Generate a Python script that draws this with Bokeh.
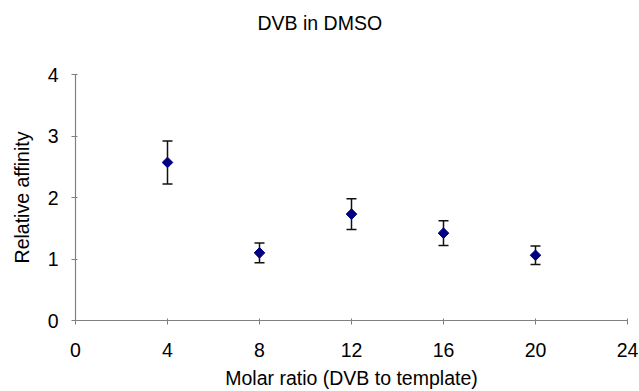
import numpy as np
from bokeh.plotting import figure
from bokeh.models import ColumnDataSource, Whisker, Range1d, FixedTicker, TeeHead, Title
from bokeh.embed import file_html
from bokeh.resources import INLINE

# Data
molar_ratio = [4, 8, 12, 16, 20]
affinity = [2.57, 1.10, 1.73, 1.42, 1.06]
err = [0.35, 0.16, 0.25, 0.20, 0.15]
x_ticks = [0, 4, 8, 12, 16, 20, 24]
y_ticks = [0, 1, 2, 3, 4]
title_text = "DVB in DMSO"

upper = [a + e for a, e in zip(affinity, err)]
lower = [a - e for a, e in zip(affinity, err)]
src = ColumnDataSource(dict(x=molar_ratio, y=affinity, upper=upper, lower=lower))

FONT = "Liberation Sans"

p = figure(output_backend="svg", toolbar_location=None,
           frame_width=552, frame_height=246,
           min_border_left=75, min_border_right=12, min_border_bottom=70,
           min_border_top=0,
           x_range=Range1d(0, 24), y_range=Range1d(0, 4),
           title=title_text)

p.title.align = "left"
p.title.offset = 182
p.title.standoff = 19
p.title.text_font = FONT
p.title.text_font_size = "19.5px"
p.title.text_font_style = "normal"
p.title.text_color = "#000000"

# spacer between title and plot area
p.add_layout(Title(text=" ", text_font=FONT, text_font_size="19.5px", standoff=7), "above")

p.outline_line_color = None
p.xgrid.visible = False
p.ygrid.visible = False

for ax in (p.xaxis[0], p.yaxis[0]):
    ax.axis_line_color = "#808080"
    ax.axis_line_width = 1.2
    ax.major_tick_line_color = "#808080"
    ax.major_tick_in = 2
    ax.major_tick_out = 4
    ax.minor_tick_line_color = None
    ax.major_label_text_font = FONT
    ax.major_label_text_font_size = "19.5px"
    ax.major_label_text_color = "#000000"
    ax.axis_label_text_font = FONT
    ax.axis_label_text_font_size = "19.5px"
    ax.axis_label_text_font_style = "normal"
    ax.axis_label_text_color = "#000000"

p.xaxis.ticker = FixedTicker(ticks=x_ticks)
p.yaxis.ticker = FixedTicker(ticks=y_ticks)
p.xaxis.axis_label = "Molar ratio (DVB to template)"
p.yaxis.axis_label = "Relative affinity"
p.xaxis.major_label_standoff = 18
p.yaxis.major_label_standoff = 13
p.xaxis.axis_label_standoff = 7
p.yaxis.axis_label_standoff = 12

w = Whisker(source=src, base="x", upper="upper", lower="lower",
            line_color="#111111", line_width=1.5,
            upper_head=TeeHead(size=10, line_color="#111111", line_width=1.5),
            lower_head=TeeHead(size=10, line_color="#111111", line_width=1.5))
p.add_layout(w)

p.scatter("x", "y", source=src, marker="square", angle=np.pi / 4, size=7.5,
          fill_color="#000080", line_color="#000080")

open("out.html", "w").write(file_html(p, INLINE))
